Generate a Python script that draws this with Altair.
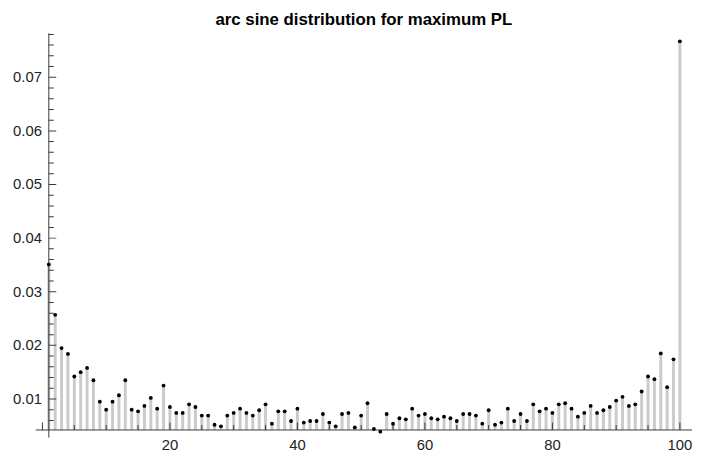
import altair as alt
import pandas as pd

# ---- data ----
xs = list(range(1, 101))
values = [
    0.0351, 0.0257, 0.0195, 0.0184, 0.0142, 0.0150, 0.0158, 0.0135, 0.0095, 0.0080,
    0.0095, 0.0107, 0.0135, 0.0080, 0.0077, 0.0087, 0.0102, 0.0082, 0.0125, 0.0085,
    0.0074, 0.0074, 0.0090, 0.0085, 0.0069, 0.0069, 0.0052, 0.0049, 0.0069, 0.0074,
    0.0082, 0.0074, 0.0069, 0.0079, 0.0090, 0.0054, 0.0077, 0.0077, 0.0059, 0.0082,
    0.0056, 0.0059, 0.0059, 0.0072, 0.0056, 0.0049, 0.0072, 0.0074, 0.0047, 0.0069,
    0.0092, 0.0044, 0.0039, 0.0072, 0.0054, 0.0064, 0.0062, 0.0082, 0.0069, 0.0072,
    0.0064, 0.0062, 0.0067, 0.0064, 0.0059, 0.0072, 0.0072, 0.0069, 0.0054, 0.0079,
    0.0052, 0.0056, 0.0082, 0.0059, 0.0072, 0.0059, 0.0090, 0.0077, 0.0082, 0.0074,
    0.0090, 0.0092, 0.0082, 0.0067, 0.0074, 0.0087, 0.0074, 0.0079, 0.0085, 0.0097,
    0.0104, 0.0087, 0.0090, 0.0114, 0.0142, 0.0137, 0.0185, 0.0122, 0.0174, 0.0767,
]

x_major_ticks = [0, 20, 40, 60, 80, 100]
x_minor_ticks = [5, 10, 15, 25, 30, 35, 45, 50, 55, 65, 70, 75, 85, 90, 95]
x_labels = [20, 40, 60, 80, 100]
y_major_ticks = [0.01, 0.02, 0.03, 0.04, 0.05, 0.06, 0.07]
y_minor_ticks = [0.006, 0.008, 0.012, 0.014, 0.016, 0.018, 0.022, 0.024, 0.026, 0.028,
                 0.032, 0.034, 0.036, 0.038, 0.042, 0.044, 0.046, 0.048, 0.052, 0.054,
                 0.056, 0.058, 0.062, 0.064, 0.066, 0.068, 0.072, 0.074, 0.076, 0.078]

X_DOMAIN = [-1.06, 101.9]
Y_DOMAIN = [0.0028, 0.0782]
AXIS_X_AT = 1          # vertical axis crosses at x = 1
AXIS_Y_AT = 0.00422    # horizontal axis crosses at y = 0.00422

FONT = "Liberation Sans"
AXIS_COLOR = "#3a3a3a"

df = pd.DataFrame({"x": xs, "y": values})
xsc = alt.Scale(domain=X_DOMAIN, nice=False, zero=False)
ysc = alt.Scale(domain=Y_DOMAIN, nice=False, zero=False)

stems = alt.Chart(df).mark_rule(color="#cbcbcb", strokeWidth=3).encode(
    x=alt.X("x:Q", scale=xsc, axis=None),
    y=alt.Y("y:Q", scale=ysc, axis=None),
    y2=alt.datum(AXIS_Y_AT),
)

xaxis_line = alt.Chart(pd.DataFrame({"a": [X_DOMAIN[0]], "b": [X_DOMAIN[1]], "c": [AXIS_Y_AT]})).mark_rule(
    color=AXIS_COLOR, strokeWidth=1
).encode(
    x=alt.X("a:Q", scale=xsc, axis=None),
    x2="b:Q",
    y=alt.Y("c:Q", scale=ysc, axis=None),
)

yaxis_line = alt.Chart(pd.DataFrame({"a": [AXIS_X_AT], "b": [Y_DOMAIN[0]], "c": [Y_DOMAIN[1]]})).mark_rule(
    color=AXIS_COLOR, strokeWidth=1
).encode(
    x=alt.X("a:Q", scale=xsc, axis=None),
    y=alt.Y("b:Q", scale=ysc, axis=None),
    y2="c:Q",
)

def xticks(vals, size):
    return alt.Chart(pd.DataFrame({"t": vals, "c": [AXIS_Y_AT] * len(vals)})).mark_tick(
        orient="vertical", size=size, thickness=1, color=AXIS_COLOR, yOffset=-size / 2, opacity=1
    ).encode(
        x=alt.X("t:Q", scale=xsc, axis=None),
        y=alt.Y("c:Q", scale=ysc, axis=None),
    )

def yticks(vals, size):
    return alt.Chart(pd.DataFrame({"t": vals, "c": [AXIS_X_AT] * len(vals)})).mark_tick(
        orient="horizontal", size=size, thickness=1, color=AXIS_COLOR, xOffset=size / 2, opacity=1
    ).encode(
        x=alt.X("c:Q", scale=xsc, axis=None),
        y=alt.Y("t:Q", scale=ysc, axis=None),
    )

dots = alt.Chart(df).mark_circle(color="black", size=15, opacity=1).encode(
    x=alt.X("x:Q", scale=xsc, axis=None),
    y=alt.Y("y:Q", scale=ysc, axis=None),
)

xlab = alt.Chart(pd.DataFrame({"t": x_labels, "c": [AXIS_Y_AT] * len(x_labels)})).mark_text(
    font=FONT, fontSize=15, color="#222222", align="center", baseline="alphabetic", dy=20
).encode(
    x=alt.X("t:Q", scale=xsc, axis=None),
    y=alt.Y("c:Q", scale=ysc, axis=None),
    text=alt.Text("t:Q", format="d"),
)

ylab = alt.Chart(pd.DataFrame({"t": y_major_ticks, "c": [AXIS_X_AT] * len(y_major_ticks)})).mark_text(
    font=FONT, fontSize=15, color="#222222", align="right", baseline="middle", dx=-7
).encode(
    x=alt.X("c:Q", scale=xsc, axis=None),
    y=alt.Y("t:Q", scale=ysc, axis=None),
    text=alt.Text("t:Q", format=".2f"),
)

chart = alt.layer(
    stems, xaxis_line, yaxis_line,
    xticks(x_major_ticks, 7.5), xticks(x_minor_ticks, 5),
    yticks(y_major_ticks, 7.5), yticks(y_minor_ticks, 5),
    dots, xlab, ylab,
).properties(
    width=664,
    height=409,
    title=alt.TitleParams(
        "arc sine distribution for maximum PL",
        font=FONT, fontSize=17, fontWeight="bold", color="black",
        anchor="middle", offset=4,
    ),
    autosize=alt.AutoSizeParams(type="none"),
    padding={"left": 28, "top": 23, "right": 1, "bottom": 14},
).configure_view(stroke=None)

chart.save("out.html", embed_options={"renderer": "svg", "actions": False})
